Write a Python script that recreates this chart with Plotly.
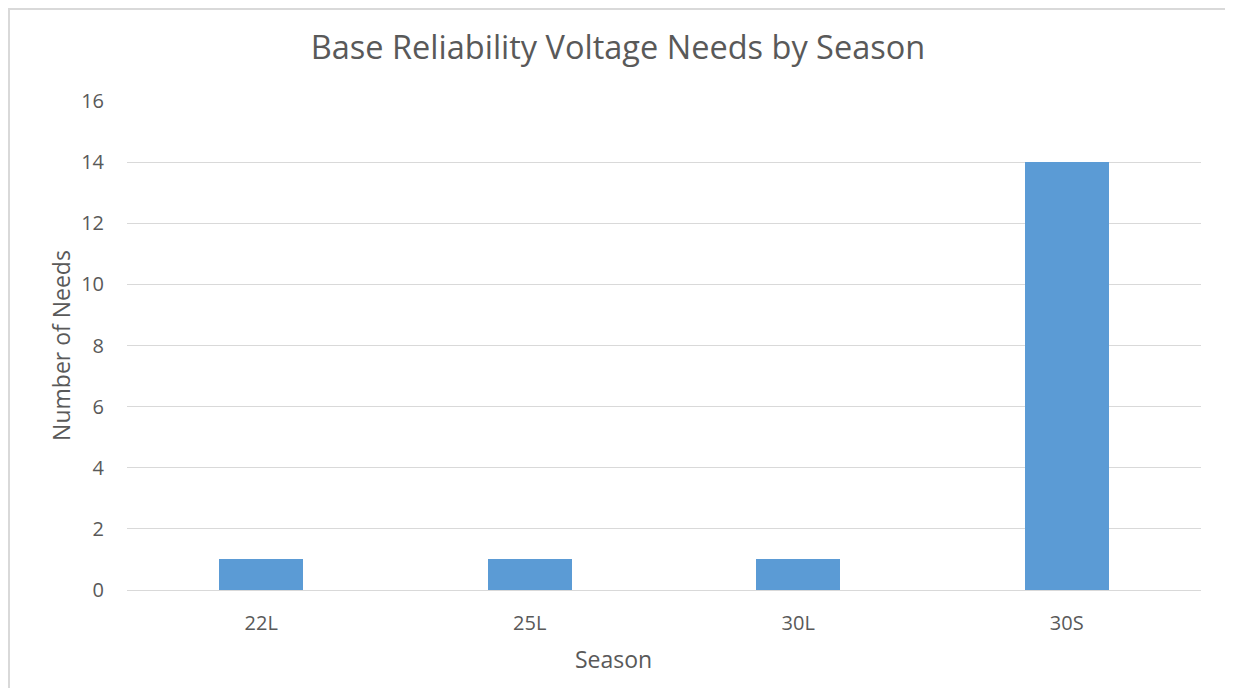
import plotly.graph_objects as go

# chart data
seasons = ['22L', '25L', '30L', '30S']
needs = [1, 1, 1, 14]
y_ticks = [0, 2, 4, 6, 8, 10, 12, 14, 16]

TEXT = '#595959'
GRID = '#d9d9d9'
FONT = 'Open Sans'

# the page body has an 8px margin, so the figure is drawn 8px smaller
W, H = 1233 - 8, 688 - 8
L, R, T, B = 119, 32, 93, 98
pw, ph = W - L - R, H - T - B

fig = go.Figure(go.Bar(x=seasons, y=needs, marker_color='#5b9bd5',
                       marker_line_width=0, width=0.313))

fig.update_layout(
    width=W, height=H,
    margin=dict(l=L, r=R, t=T, b=B),
    paper_bgcolor='white', plot_bgcolor='white',
    font=dict(family=FONT, color=TEXT),
    title=dict(text='Base Reliability Voltage Needs by Season',
               x=(618 - 8) / W, xref='container', xanchor='center',
               y=1 - 40 / H, yref='container', yanchor='middle',
               font=dict(size=32.5, color=TEXT)),
    showlegend=False,
    bargap=0,
)
fig.update_xaxes(tickfont=dict(size=20), showgrid=False, showline=True,
                 linecolor=GRID, linewidth=1, ticks='', ticklabelstandoff=15)
fig.update_yaxes(title=dict(text='Number of Needs', font=dict(size=23), standoff=4),
                 tickfont=dict(size=20), range=[0, 16], tickvals=y_ticks,
                 gridcolor=GRID, gridwidth=1, zeroline=False, showline=False,
                 ticks='', ticklabelstandoff=22)

# x axis title sits at the centre of the chart, not of the plot area
fig.add_annotation(text='Season', xref='paper', yref='paper',
                   x=(613 - 8 - L) / pw, y=-(659 - 8 - (H - B)) / ph,
                   xanchor='center', yanchor='middle', showarrow=False,
                   font=dict(size=23, color=TEXT))

# chart border
fig.add_shape(type='rect', xref='paper', yref='paper',
              x0=(1 - L) / pw, x1=(W - 2 - L) / pw,
              y0=-0.3, y1=(H - B - 1) / ph,
              line=dict(color=GRID, width=2), layer='below')

fig.write_html('out.html')
